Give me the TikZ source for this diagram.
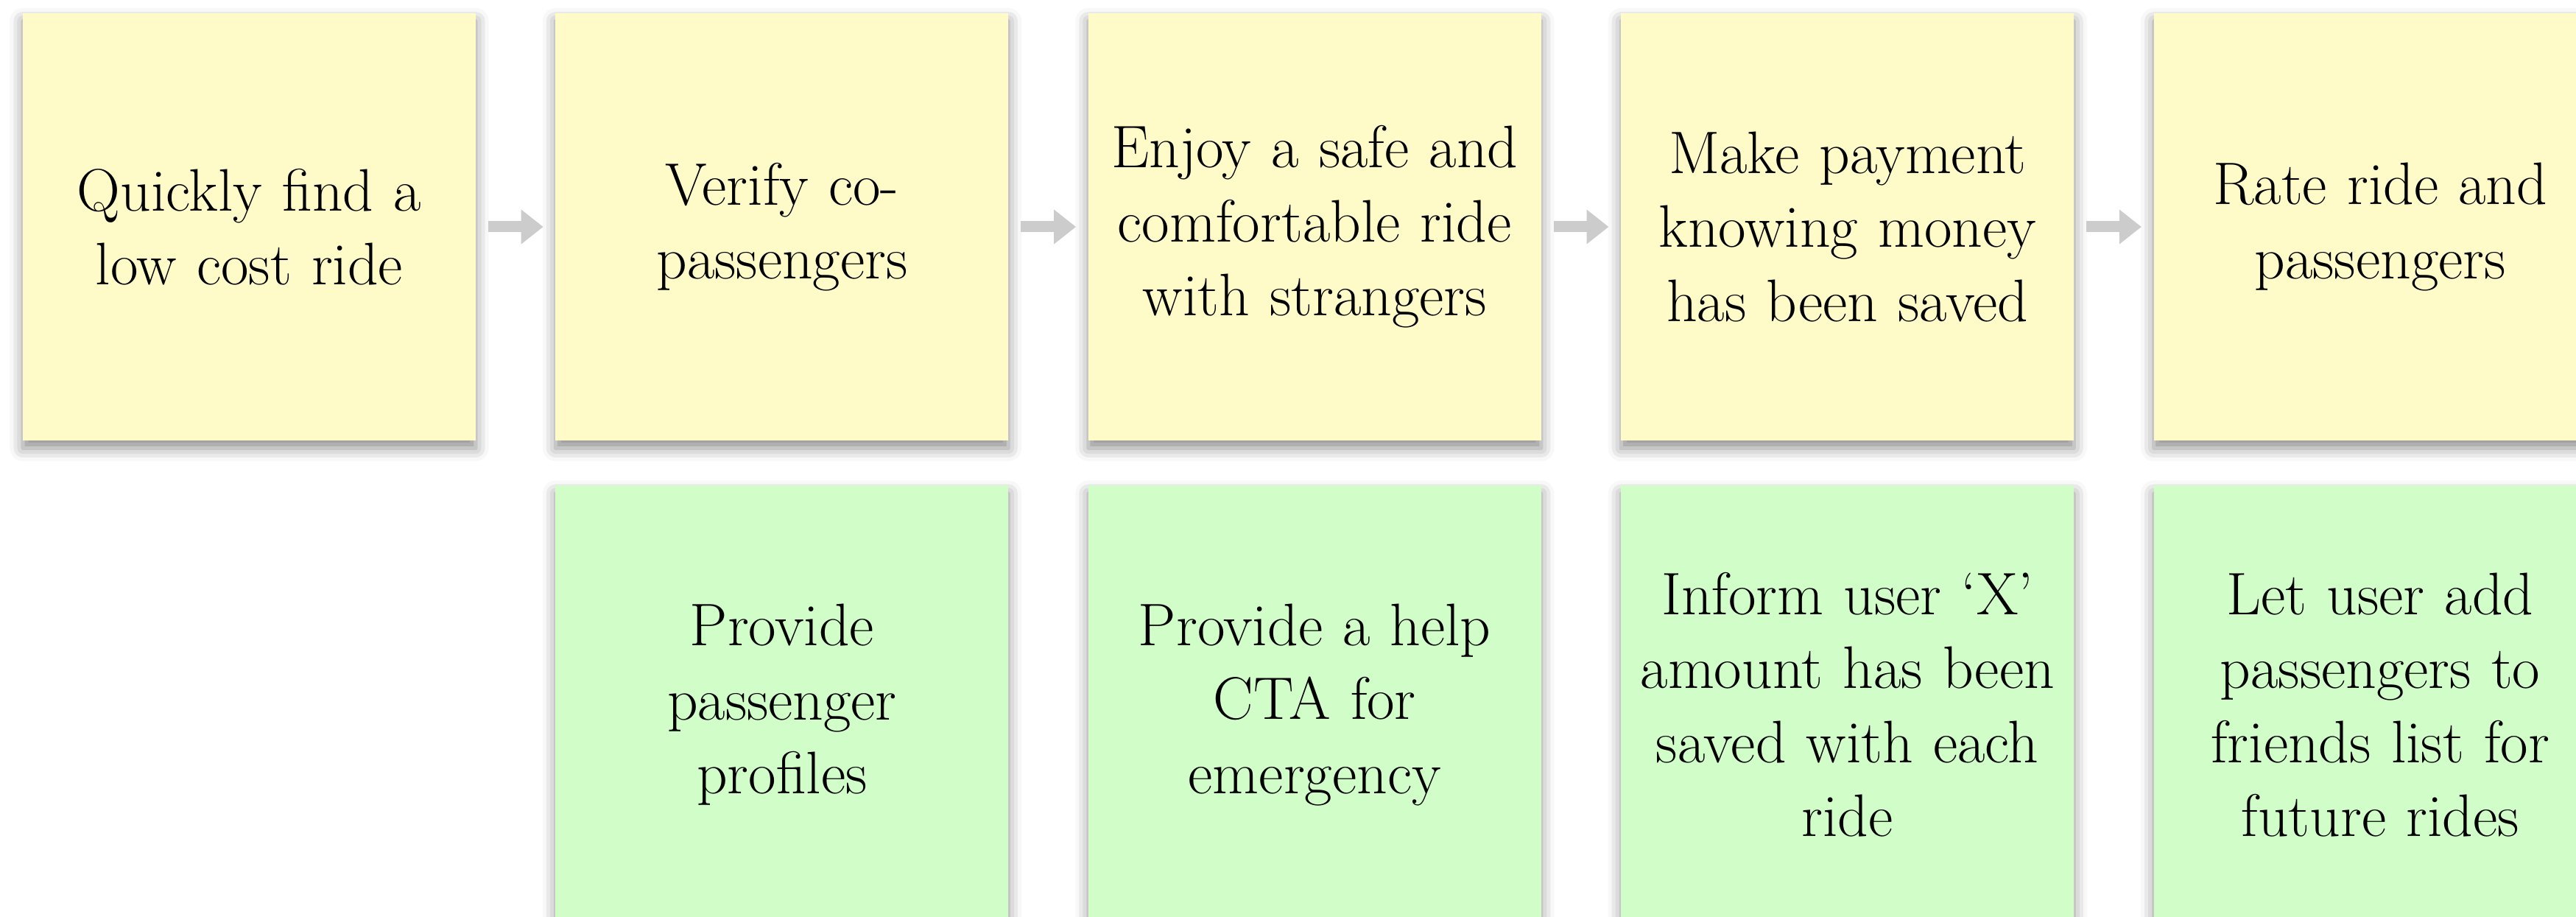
\documentclass[tikz,border=0pt]{standalone}
\usetikzlibrary{positioning,arrows.meta,shadows.blur}
\definecolor{noteyellow}{HTML}{FFFBC8}
\definecolor{notegreen}{HTML}{D1FDC8}
\definecolor{flowgray}{HTML}{CCCCCC}
\tikzset{
  note/.style={
    rectangle,
    minimum width=6.15cm,
    minimum height=5.8cm,
    inner sep=0pt,
    text width=5.9cm,
    align=center,
    font=\fontsize{23.2}{28.6}\selectfont,
    blur shadow={shadow xshift=0pt, shadow yshift=-3pt,
      shadow blur radius=5pt, shadow opacity=45}},
  goal/.style={note, fill=noteyellow},
  feature/.style={note, fill=notegreen, minimum height=5.95cm},
  flow/.style={draw=flowgray, line width=0.15cm,
    -{Triangle[length=0.3cm,width=0.45cm]},
    shorten <=0.16cm, shorten >=0.16cm},
}
\begin{document}
\begin{tikzpicture}[node distance=0.6cm and 1.07cm]
    \useasboundingbox (0,0) rectangle (34.98,-12.45);

    %user goals
    \node[goal] (find) at (3.385,-3.08) {Quickly find a\\low cost ride};
    \node[goal, right=of find] (verify) {Verify co-\\passengers};
    \node[goal, right=of verify] (enjoy) {Enjoy a safe and\\comfortable ride\\with strangers};
    \node[goal, right=of enjoy] (pay) {Make payment\\knowing money\\has been saved};
    \node[goal, right=of pay] (rate) {Rate ride and\\passengers};

    %features
    \node[feature, below=of verify] (profiles) {Provide\\passenger\\profiles};
    \node[feature, below=of enjoy] (help) {Provide a help\\CTA for\\emergency};
    \node[feature, below=of pay] (saved) {Inform user `X'\\amount has been\\saved with each\\ride};
    \node[feature, below=of rate] (friends) {Let user add\\passengers to\\friends list for\\future rides};

    %journey
    \draw[flow] (find) -- (verify);
    \draw[flow] (verify) -- (enjoy);
    \draw[flow] (enjoy) -- (pay);
    \draw[flow] (pay) -- (rate);

\end{tikzpicture}
\end{document}
